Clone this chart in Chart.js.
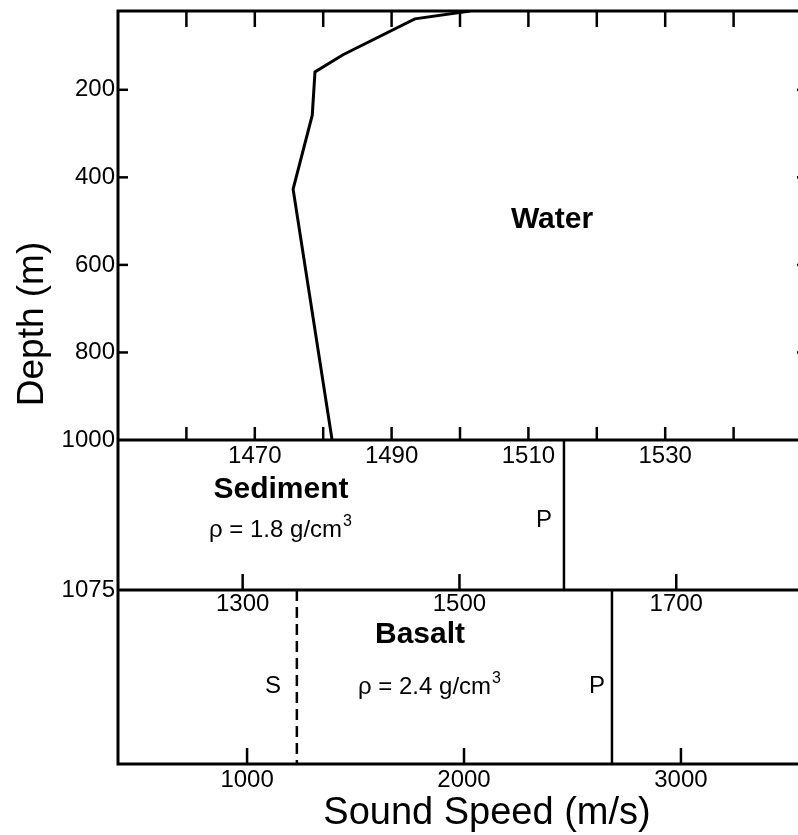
<!DOCTYPE html>
<html><head><meta charset="utf-8">
<script src="https://cdn.jsdelivr.net/npm/chart.js@4/dist/chart.umd.min.js"></script>
<style>
html,body{margin:0;padding:0;background:#fff;overflow:hidden;width:798px;height:835px}
#wrap{position:absolute;left:0;top:0;width:812px;height:835px}
</style>
</head><body><div id="wrap"><canvas id="c" width="812" height="835"></canvas></div>
<script>
// ---- data ----
// water sound-speed profile
const waterSpeed = [1501.5, 1493.4, 1482.9, 1478.8, 1478.4, 1475.6, 1481.3];
const waterDepth = [20, 38, 120, 159, 258, 427, 1000];
// layer boundaries (m)
const seafloorDepth = 1000;
const basaltTopDepth = 1075;
const basaltPlotBottom = 1175;
// layer speeds (m/s)
const sedimentP = 1515.2;
const basaltS = 1350;
const basaltP = 2682;
// axis ranges
const waterSpeedRange = [1450, 1550];
const basaltSRange = [1185, 1816];
const basaltPRange = [405, 3558];
const waterDepthMin = 20;
// ticks
const waterSpeedTicks = [1460, 1470, 1480, 1490, 1500, 1510, 1520, 1530, 1540];
const waterSpeedLabels = [1470, 1490, 1510, 1530];
const depthTicks = [200, 400, 600, 800];
const depthLabels = [200, 400, 600, 800, 1000];
const sedimentDepthLabels = [1075];
const basaltSTicks = [1300, 1500, 1700];
const basaltPTicks = [1000, 2000, 3000];

// ---- chart ----
Chart.defaults.font.family = "'Liberation Sans', Arial, Helvetica, sans-serif";
Chart.defaults.color = '#000';
const FONT = "'Liberation Sans', Arial, Helvetica, sans-serif";
const tickFont = {size: 24};
const fmt = v => String(v);
const setTicks = arr => s => { s.ticks = arr.map(v => ({value: v})); };
const noPad = s => { s.paddingTop = 0; s.paddingBottom = 0; s.paddingLeft = 0; s.paddingRight = 0; };

function yAxis(order, weight, min, max, labels) {
  return {
    axis: 'y', type: 'linear', position: 'left', stack: 'depth', stackWeight: weight, weight: order,
    reverse: true, min: min, max: max, offset: false,
    grid: {display: false, drawTicks: false}, border: {display: false},
    ticks: {display: labels.length > 0, font: tickFont, padding: 3, callback: fmt, autoSkip: false},
    afterBuildTicks: setTicks(labels),
    afterFit: s => { s.width = 118; noPad(s); }
  };
}
function xAxis(range, position, labels, pad, h) {
  return {
    axis: 'x', type: 'linear', position: position, min: range[0], max: range[1], offset: false,
    grid: {display: false, drawTicks: false}, border: {display: false},
    ticks: {font: tickFont, padding: pad, callback: fmt, autoSkip: false, maxRotation: 0, minRotation: 0},
    afterBuildTicks: setTicks(labels),
    afterFit: s => { if (h !== undefined) s.height = h; noPad(s); }
  };
}

const line = (ctx, x1, y1, x2, y2, w) => {
  ctx.lineWidth = w; ctx.beginPath(); ctx.moveTo(x1, y1); ctx.lineTo(x2, y2); ctx.stroke();
};
function rho(ctx, x, y, txt) {
  ctx.font = '24px ' + FONT; ctx.textAlign = 'left'; ctx.textBaseline = 'alphabetic';
  ctx.fillText(txt, x, y);
  const w = ctx.measureText(txt).width;
  ctx.font = '16px ' + FONT;
  ctx.fillText('3', x + w + 1, y - 11);
}

const framePlugin = {
  id: 'frame',
  afterDraw(chart) {
    const {ctx, chartArea: a, scales: s} = chart;
    ctx.save();
    ctx.strokeStyle = '#000'; ctx.fillStyle = '#000'; ctx.lineCap = 'butt';
    const ySea = s.yW.getPixelForValue(seafloorDepth);
    const yBas = s.yS.getPixelForValue(basaltTopDepth);
    // frame and layer boundaries
    ctx.lineWidth = 3;
    ctx.strokeRect(a.left, a.top, a.right - a.left, a.bottom - a.top);
    line(ctx, a.left, ySea, a.right, ySea, 3);
    line(ctx, a.left, yBas, a.right, yBas, 3);
    // tick marks (inward)
    waterSpeedTicks.forEach(v => {
      const x = s.xW.getPixelForValue(v);
      line(ctx, x, a.top, x, a.top + 16, 2.5);
      line(ctx, x, ySea, x, ySea - 13, 2.5);
    });
    basaltSTicks.forEach(v => { const x = s.xBS.getPixelForValue(v); line(ctx, x, yBas, x, yBas - 16, 2.5); });
    basaltPTicks.forEach(v => { const x = s.xBP.getPixelForValue(v); line(ctx, x, a.bottom, x, a.bottom - 16, 2.5); });
    depthTicks.forEach(v => {
      const y = s.yW.getPixelForValue(v);
      line(ctx, a.left, y, a.left + 10, y, 2.5);
      line(ctx, a.right, y, a.right - 5, y, 2.5);
    });
    // annotations
    ctx.font = 'bold 30px ' + FONT; ctx.textAlign = 'center'; ctx.textBaseline = 'alphabetic';
    ctx.fillText('Water', 552, 228);
    ctx.fillText('Sediment', 281, 498);
    ctx.fillText('Basalt', 420, 643);
    rho(ctx, 209, 537, 'ρ = 1.8 g/cm');
    rho(ctx, 358, 694, 'ρ = 2.4 g/cm');
    ctx.font = '24px ' + FONT; ctx.textAlign = 'center';
    ctx.fillText('P', 544, 527);
    ctx.fillText('S', 273, 693);
    ctx.fillText('P', 597, 693);
    // axis titles
    ctx.font = '38px ' + FONT;
    ctx.fillText('Sound Speed (m/s)', 487, 824);
    ctx.save();
    ctx.translate(43, 324); ctx.rotate(-Math.PI / 2);
    ctx.font = '37px ' + FONT;
    ctx.fillText('Depth (m)', 0, 0);
    ctx.restore();
    ctx.restore();
  }
};

const vline = (x, y0, y1) => [{x: x, y: y0}, {x: x, y: y1}];
const base = {showLine: true, pointRadius: 0, borderColor: '#000', fill: false, tension: 0};

new Chart(document.getElementById('c'), {
  type: 'scatter',
  data: {
    datasets: [
      Object.assign({}, base, {label: 'Water', borderWidth: 3, xAxisID: 'xW', yAxisID: 'yW',
        data: waterSpeed.map((v, i) => ({x: v, y: waterDepth[i]}))}),
      Object.assign({}, base, {label: 'Sediment P', borderWidth: 2.5, xAxisID: 'xW', yAxisID: 'yS',
        data: vline(sedimentP, seafloorDepth, basaltTopDepth)}),
      Object.assign({}, base, {label: 'Basalt S', borderWidth: 2.5, borderDash: [11, 6], xAxisID: 'xBS', yAxisID: 'yB',
        data: vline(basaltS, basaltTopDepth, basaltPlotBottom)}),
      Object.assign({}, base, {label: 'Basalt P', borderWidth: 2.5, xAxisID: 'xBP', yAxisID: 'yB',
        data: vline(basaltP, basaltTopDepth, basaltPlotBottom)})
    ]
  },
  options: {
    responsive: false, animation: false, devicePixelRatio: 1, events: [],
    layout: {padding: {left: 0, top: 11, right: 10, bottom: 0}},
    plugins: {legend: {display: false}, tooltip: {enabled: false}, title: {display: false}},
    scales: {
      yW: yAxis(3, 429, waterDepthMin, seafloorDepth, depthLabels),
      yS: yAxis(2, 150, seafloorDepth, basaltTopDepth, sedimentDepthLabels),
      yB: yAxis(1, 174, basaltTopDepth, basaltPlotBottom, []),
      xW: xAxis(waterSpeedRange, {yW: seafloorDepth}, waterSpeedLabels, 2),
      xBS: xAxis(basaltSRange, {yS: basaltTopDepth}, basaltSTicks, 0),
      xBP: xAxis(basaltPRange, 'bottom', basaltPTicks, 2, 71)
    }
  },
  plugins: [framePlugin]
});
</script>
</body></html>
